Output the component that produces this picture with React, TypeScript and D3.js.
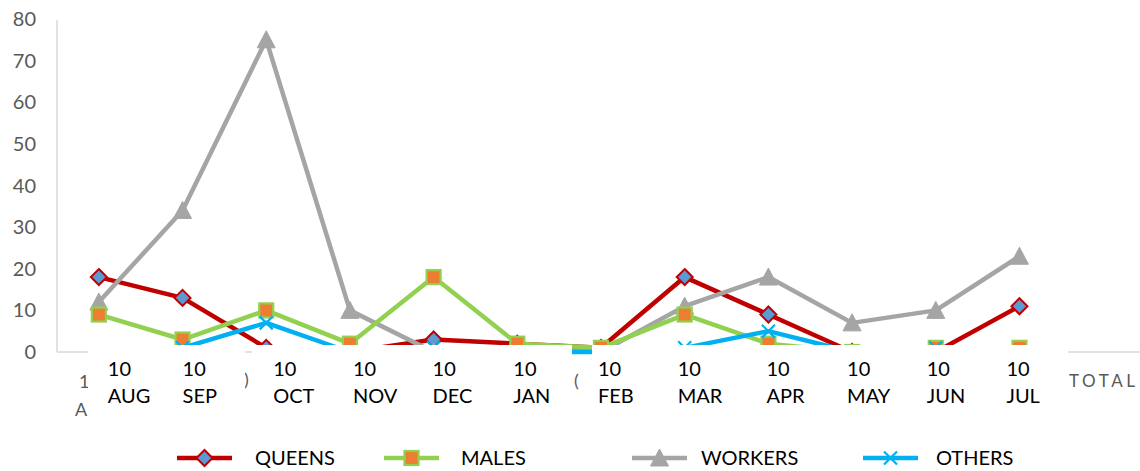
import React from "react";
import * as d3 from "d3";

const MONTHS = ["AUG", "SEP", "OCT", "NOV", "DEC", "JAN", "FEB", "MAR", "APR", "MAY", "JUN", "JUL"];
const EXTRA_CATEGORY = "TOTAL";
const YEAR_LABEL = "10";
const QUEENS = [18, 13, 1, 0, 3, 2, 1, 18, 9, 0, 0, 11];
const MALES = [9, 3, 10, 2, 18, 2, 1, 9, 2, 0, 1, 1];
const WORKERS = [12, 34, 75, 10, 0, 1, 0, 11, 18, 7, 10, 23];
const OTHERS = [0, 1, 7, 0, 1, 0, 0, 1, 5, 0, 1, 0];
const Y_TICKS = [0, 10, 20, 30, 40, 50, 60, 70, 80];
const SERIES_NAMES = ["QUEENS", "MALES", "WORKERS", "OTHERS"];

// layout constants (label nudges of the hand-placed text boxes)
const LABEL_NUDGE = [9, 0, 7, 3, -1, -4, -3, -7, -2, -5, -9, -13];

const W = 1140;
const H = 471;
const FONT = "Lato, 'Open Sans', sans-serif";

type Kind = "diamond" | "square" | "triangle" | "x";
const STYLES: Record<string, { stroke: string; kind: Kind }> = {
  QUEENS: { stroke: "#C00000", kind: "diamond" },
  MALES: { stroke: "#92D050", kind: "square" },
  WORKERS: { stroke: "#A5A5A5", kind: "triangle" },
  OTHERS: { stroke: "#00B0F0", kind: "x" },
};

function Marker({ kind, cx, cy }: { kind: Kind; cx: number; cy: number }) {
  if (kind === "diamond") {
    const r = 8;
    return (
      <path
        d={`M${cx},${cy - r}L${cx + r},${cy}L${cx},${cy + r}L${cx - r},${cy}Z`}
        fill="#5B9BD5"
        stroke="#C00000"
        strokeWidth={2}
      />
    );
  }
  if (kind === "square") {
    const s = 7;
    return <rect x={cx - s} y={cy - s} width={2 * s} height={2 * s} fill="#ED7D31" stroke="#92D050" strokeWidth={2.2} />;
  }
  if (kind === "triangle") {
    return (
      <path
        d={`M${cx},${cy - 9}L${cx + 9},${cy + 8}L${cx - 9},${cy + 8}Z`}
        fill="#A5A5A5"
        stroke="#A5A5A5"
        strokeWidth={1}
      />
    );
  }
  const r = 6.5;
  return (
    <path
      d={`M${cx - r},${cy - r}L${cx + r},${cy + r}M${cx - r},${cy + r}L${cx + r},${cy - r}`}
      stroke="#00B0F0"
      strokeWidth={2.2}
      fill="none"
    />
  );
}

export default function App() {
  const categories = [...MONTHS, EXTRA_CATEGORY];
  const x = d3.scaleBand<string>().domain(categories).range([57, 1145]).padding(0);
  const cx = (c: string) => (x(c) as number) + x.bandwidth() / 2;
  const y = d3.scaleLinear().domain([0, 80]).range([352, 19]);

  const dataBySeries: Record<string, number[]> = {
    QUEENS,
    MALES,
    WORKERS,
    OTHERS,
  };
  const drawOrder = ["QUEENS", "WORKERS", "MALES", "OTHERS"];

  const line = d3
    .line<number>()
    .x((_, i) => cx(MONTHS[i]))
    .y((d) => y(d));

  const legendX = [177, 384, 632, 863];
  const legendTextX = [255, 461, 701, 936];
  const legendY = 458;

  const boxTop = 345;
  const boxes = [
    [88, 245],
    [252, 572],
    [592, 1068],
  ];

  return (
    <svg width={W} height={H} style={{ position: "absolute", left: 0, top: 0, background: "#fff" }} fontFamily={FONT}>
      <rect x={0} y={0} width={W} height={H} fill="#fff" />
      {/* y axis */}
      <line x1={57} x2={57} y1={y(80) + 1} y2={y(0)} stroke="#D9D9D9" strokeWidth={1.5} />
      <line x1={57} x2={W} y1={y(0)} y2={y(0)} stroke="#D9D9D9" strokeWidth={1.5} />
      {Y_TICKS.map((t) => (
        <text key={t} x={36} y={y(t)} dy="0.35em" textAnchor="end" fontSize={20} fill="#595959">
          {t}
        </text>
      ))}
      {/* underlying original category labels */}
      <text x={79} y={388} fontSize={18} fill="#595959">1</text>
      <text x={75} y={416} fontSize={18} fill="#595959">A</text>
      <text x={244} y={386} fontSize={18} fill="#595959">)</text>
      <text x={574} y={387} fontSize={18} fill="#595959">(</text>
      <text x={1069} y={387} fontSize={17} fill="#595959" letterSpacing={3.6}>
        {EXTRA_CATEGORY}
      </text>
      {/* series */}
      {drawOrder.map((name) => {
        const st = STYLES[name];
        const vals = dataBySeries[name];
        return (
          <g key={name}>
            <path d={line(vals) || ""} fill="none" stroke={st.stroke} strokeWidth={4.5} strokeLinejoin="round" strokeLinecap="round" />
            {vals.map((v, i) => (
              <Marker key={i} kind={st.kind} cx={cx(MONTHS[i])} cy={y(v)} />
            ))}
          </g>
        );
      })}
      {/* white overlay text boxes */}
      {boxes.map(([a, b], i) => (
        <rect key={i} x={a} y={boxTop} width={b - a} height={70} fill="#fff" />
      ))}
      {MONTHS.map((m, i) => (
        <g key={m}>
          <text x={cx(m) + LABEL_NUDGE[i]} y={376} fontSize={20} fill="#000">
            {YEAR_LABEL}
          </text>
          <text x={cx(m) + LABEL_NUDGE[i]} y={403} fontSize={20} fill="#000">
            {m}
          </text>
        </g>
      ))}
      {/* legend */}
      {SERIES_NAMES.map((name, i) => {
        const st = STYLES[name];
        const lx = legendX[i];
        return (
          <g key={name}>
            <line x1={lx} x2={lx + 55} y1={legendY} y2={legendY} stroke={st.stroke} strokeWidth={4.5} />
            <Marker kind={st.kind} cx={lx + 27.5} cy={legendY} />
            <text x={legendTextX[i]} y={legendY} dy="0.36em" fontSize={20} fill="#000">
              {name}
            </text>
          </g>
        );
      })}
    </svg>
  );
}
